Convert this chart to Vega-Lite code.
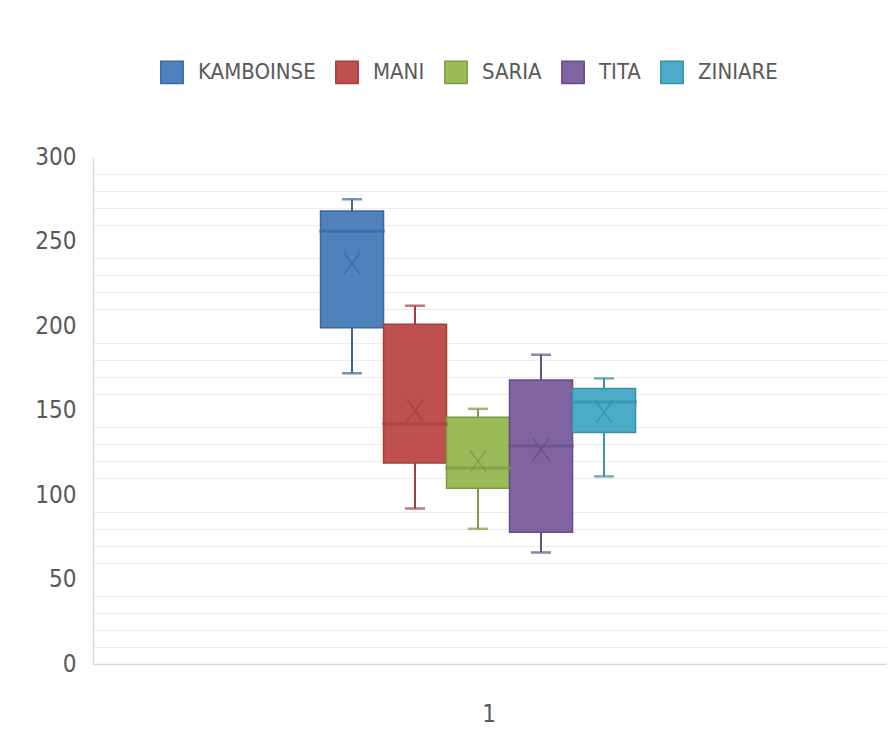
{
  "$schema": "https://vega.github.io/schema/vega-lite/v6.json",
  "width": 793,
  "height": 507,
  "autosize": {"type": "none"},
  "padding": {"left": 93, "top": 157, "right": 6, "bottom": 87},
  "background": "white",
  "config": {"view": {"stroke": null}, "font": "DejaVu Sans Condensed"},
  "data": {
    "values": [
      {"cat": "1", "series": "KAMBOINSE", "min": 172, "q1": 199, "median": 256, "q3": 268, "max": 275, "mean": 237},
      {"cat": "1", "series": "MANI", "min": 92, "q1": 119, "median": 142, "q3": 201, "max": 212, "mean": 150},
      {"cat": "1", "series": "SARIA", "min": 80, "q1": 104, "median": 116, "q3": 146, "max": 151, "mean": 120},
      {"cat": "1", "series": "TITA", "min": 66, "q1": 78, "median": 129, "q3": 168, "max": 183, "mean": 127},
      {"cat": "1", "series": "ZINIARE", "min": 111, "q1": 137, "median": 155, "q3": 163, "max": 169, "mean": 149}
    ]
  },
  "encoding": {
    "x": {
      "field": "cat", "type": "nominal",
      "scale": {"paddingInner": 0, "paddingOuter": 0.7587, "align": 0.476},
      "axis": {"title": null, "labelAngle": 0, "labelFontSize": 24, "labelColor": "#595959", "labelPadding": 38, "labelOffset": 11, "ticks": false, "domainColor": "#d9d9d9", "domainWidth": 1.5}
    },
    "xOffset": {"field": "series", "type": "nominal", "scale": {"paddingInner": 0, "paddingOuter": 0}}
  },
  "layer": [
    {
      "mark": {"type": "rule", "strokeWidth": 2},
      "encoding": {
        "y": {"field": "min", "type": "quantitative", "scale": {"domain": [0, 300], "nice": false},
          "axis": {"orient": "right", "title": null, "labels": false, "ticks": false, "domain": false, "grid": true, "gridColor": "#ececec", "gridWidth": 1.2,
            "values": [10, 20, 30, 40, 60, 70, 80, 90, 110, 120, 130, 140, 160, 170, 180, 190, 210, 220, 230, 240, 260, 270, 280, 290]}},
        "y2": {"field": "max"},
        "stroke": {"field": "series", "type": "nominal",
          "scale": {"domain": ["KAMBOINSE", "MANI", "SARIA", "TITA", "ZINIARE"], "range": ["#3a67a0", "#a43f3c", "#7c9943", "#644e87", "#3790a9"]}}
      }
    },
    {
      "mark": {"type": "bar", "strokeWidth": 1.5},
      "encoding": {
        "y": {"field": "q1", "type": "quantitative", "scale": {"domain": [0, 300], "nice": false},
          "axis": {"orient": "left", "title": null, "values": [0, 50, 100, 150, 200, 250, 300], "labelFontSize": 24, "labelColor": "#595959", "labelPadding": 17, "ticks": false, "domainColor": "#d9d9d9", "domainWidth": 1.5, "gridColor": "#d9d9d9", "gridWidth": 1.5}},
        "y2": {"field": "q3"},
        "fill": {"field": "series", "type": "nominal",
          "scale": {"domain": ["KAMBOINSE", "MANI", "SARIA", "TITA", "ZINIARE"], "range": ["#4f81bd", "#c0504d", "#9bbb59", "#8064a2", "#4bacc6"]},
          "legend": {"orient": "none", "legendX": 67, "legendY": -97, "direction": "horizontal", "title": null, "symbolType": "square", "symbolSize": 500, "symbolStrokeWidth": 1.5, "labelFontSize": 22, "labelColor": "#595959", "labelOffset": 14, "columnPadding": 16}},
        "stroke": {"field": "series", "type": "nominal",
          "legend": {"orient": "none", "legendX": 67, "legendY": -97, "direction": "horizontal", "title": null, "symbolType": "square", "symbolSize": 500, "symbolStrokeWidth": 1.5, "labelFontSize": 22, "labelColor": "#595959", "labelOffset": 14, "columnPadding": 16}}
      }
    },
    {
      "mark": {"type": "tick", "filled": false, "thickness": 0.5, "size": 63, "strokeWidth": 2.5},
      "encoding": {
        "y": {"field": "median", "type": "quantitative", "axis": null},
        "stroke": {"field": "series", "type": "nominal"}
      }
    },
    {
      "mark": {"type": "tick", "filled": false, "thickness": 0.5, "size": 18, "strokeWidth": 2},
      "encoding": {
        "y": {"field": "min", "type": "quantitative", "axis": null},
        "stroke": {"field": "series", "type": "nominal"}
      }
    },
    {
      "mark": {"type": "tick", "filled": false, "thickness": 0.5, "size": 18, "strokeWidth": 2},
      "encoding": {
        "y": {"field": "max", "type": "quantitative", "axis": null},
        "stroke": {"field": "series", "type": "nominal"}
      }
    },
    {
      "mark": {"type": "point", "filled": false, "shape": "M-0.75,-1L0.75,1M-0.75,1L0.75,-1", "size": 500, "strokeWidth": 1.5, "opacity": 0.8},
      "encoding": {
        "y": {"field": "mean", "type": "quantitative", "axis": null},
        "stroke": {"field": "series", "type": "nominal"}
      }
    }
  ],
  "resolve": {"axis": {"y": "independent"}}
}
